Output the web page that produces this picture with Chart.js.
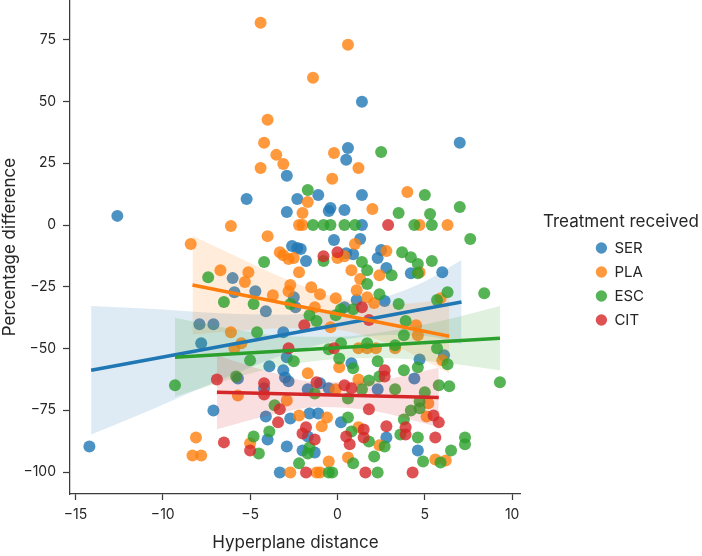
<!DOCTYPE html>
<html>
<head>
<meta charset="utf-8">
<script src="https://cdn.jsdelivr.net/npm/chart.js@4.4.0/dist/chart.umd.min.js"></script>
<style>
html, body { margin: 0; padding: 0; background: #fff; }
#wrap { width: 702px; height: 556px; }
</style>
</head>
<body>
<div id="wrap"><canvas id="grafico" width="702" height="556"></canvas></div>
<script>
// values: [hyperplane distance, percentage difference]
var serPoints = [[-14.2,-89.7],[-12.6,3.7],[-5.2,10.5],[-6.0,-21.5],[1.4,49.9],[0.6,31.2],[0.5,26.4],[7.0,33.3],[-2.9,19.9],[-1.1,12.2],[-2.3,10.5],[1.4,12.2],[-2.9,5.3],[-0.4,6.9],[-0.5,5.7],[0.4,6.1],[1.4,0],[-0.2,-6.1],[1.3,-5.7],[-2.6,-8.5],[-2.3,-9.3],[-2.1,-9.7],[-1.8,-14.6],[0.5,-11.4],[0.9,-11.8],[2.5,-10.1],[2.3,-13.4],[2.8,-17.4],[4.2,-19.5],[6.0,-19.1],[-5.9,-27.2],[-4.7,-26.8],[-4.1,-34.9],[-7.9,-40.2],[-7.1,-40.2],[-7.8,-47.9],[-5.7,-62.1],[-4.2,-66.1],[-7.1,-75.1],[-4.1,-77.5],[-4.0,-86.8],[-2.5,-29.2],[0.4,-33.3],[1.1,-30.4],[2.7,-30.8],[-3.1,-43.4],[-2.9,-53.5],[-3.9,-57.2],[-3.1,-58.8],[-3.0,-61.7],[-2.8,-63.3],[-1.0,-64.1],[-1.7,-66.5],[-0.5,-66.1],[2.3,-66.5],[0.8,-56.0],[-2.7,-78.3],[-1.6,-76.3],[-1.1,-76.3],[-1.7,-85.6],[0.2,-79.9],[2.8,-86.0],[-2.9,-89.7],[-2.0,-91.3],[-1.3,-92.1],[-3.3,-100.2],[6.1,-52.7],[4.7,-54.4],[4.4,-62.1],[4.6,-91.3],[-2.4,-33.3]];
var plaPoints = [[-4.4,81.9],[0.6,73.0],[-1.4,59.6],[-4.0,42.6],[-4.2,33.3],[-3.5,28.4],[-3.1,24.7],[-4.4,23.1],[-0.2,29.2],[1.2,23.1],[-0.3,18.7],[-1.7,9.3],[4.0,13.4],[-2.0,4.9],[2.0,6.5],[-6.1,-0.4],[-2.2,0],[-2.0,0],[4.7,0],[6.3,0],[-4.0,-4.5],[1.0,-7.7],[-8.4,-7.7],[-6.7,-18.3],[-5.1,-19.1],[-3.3,-11.0],[-3.1,-12.2],[-2.8,-13.8],[-2.5,-13.4],[0,-13.4],[0.4,-12.6],[-2.2,-19.1],[0.8,-18.3],[2.8,-10.5],[2.4,-20.3],[4.7,-19.1],[-5.3,-23.1],[1.3,-21.9],[1.1,-26.4],[-1.5,-25.2],[-1.0,-28.0],[-2.7,-24.3],[-2.8,-26.8],[-3.7,-28.4],[-0.1,-29.6],[1.7,-29.2],[2.1,-31.6],[-1.3,-33.3],[5.9,-29.6],[4.5,-40.6],[4.6,-44.6],[-6.1,-43.4],[-5.5,-47.9],[-5.9,-49.9],[-5.7,-69.0],[-8.1,-86.0],[-5.0,-88.4],[-8.3,-93.3],[-7.8,-93.3],[-1.7,-60.0],[-0.1,-66.5],[1.2,-62.5],[1.2,-49.9],[1.7,-49.9],[2.2,-49.9],[0.1,-57.6],[6.0,-54.8],[5.2,-72.2],[5.1,-77.5],[-2.9,-71.0],[-2.2,-77.1],[-0.6,-77.9],[-0.9,-81.5],[1.2,-81.9],[2.4,-89.2],[-0.5,-95.7],[0.6,-94.1],[-2.7,-100.2],[-1.2,-100.2],[-1.0,-100.2],[5.6,-94.9],[6.2,-95.3],[-0.4,-41.4],[3.3,-49.9]];
var escPoints = [[2.5,29.6],[-1.7,14.2],[5.0,12.2],[7.0,7.3],[3.5,4.9],[5.3,4.5],[-1.4,0],[-0.8,0],[-0.4,0],[0.4,0],[1.0,0],[4.4,0],[5.4,0],[7.6,-5.7],[-0.8,-14.6],[-4.2,-15.0],[1.4,-15.0],[1.7,-18.3],[3.7,-11.0],[4.2,-13.0],[4.6,-15.8],[5.4,-14.6],[3.1,-20.3],[4.6,-19.5],[-7.4,-21.1],[1.7,-23.9],[-2.7,-32.0],[2.4,-28.0],[0.2,-34.1],[0.9,-34.1],[-0.1,-36.5],[-1.6,-36.5],[-1.2,-38.9],[-6.5,-31.2],[-4.8,-32.0],[-4.6,-43.4],[-5.0,-54.8],[-9.3,-64.9],[-5.8,-61.3],[-3.9,-83.6],[-4.8,-85.6],[-4.5,-92.5],[8.4,-27.6],[6.3,-27.2],[5.7,-30.4],[3.5,-32.0],[3.9,-38.9],[3.8,-44.6],[3.3,-48.7],[5.7,-49.9],[6.3,-56.4],[4.6,-57.6],[3.8,-58.8],[9.3,-63.7],[5.8,-64.9],[6.4,-65.3],[3.3,-66.5],[5.0,-67.7],[4.7,-71.4],[4.7,-74.2],[4.2,-75.1],[3.8,-78.7],[3.6,-84.8],[4.6,-86.0],[7.3,-86.0],[7.3,-88.8],[6.5,-91.3],[4.9,-95.7],[5.9,-96.1],[-2.5,-55.2],[-1.3,-68.2],[1.4,-66.5],[0.6,-70.2],[1.8,-62.9],[2.4,-61.3],[0.9,-58.0],[2.3,-55.2],[0.2,-47.9],[0.1,-54.0],[1.7,-47.9],[-0.5,-50.3],[-3.6,-73.0],[0.6,-77.9],[0.8,-83.6],[1.8,-87.6],[2.7,-89.7],[-1.6,-90.1],[-1.7,-92.5],[-2.2,-96.5],[0.9,-96.5],[2.1,-93.7],[-0.5,-100.2],[-0.3,-100.2],[2.3,-100.2]];
var citPoints = [[2.9,0],[-0.8,-12.6],[0,-11.0],[1.4,-33.3],[-1.9,-40.6],[1.8,-38.5],[-6.9,-62.5],[-4.2,-64.1],[-4.2,-68.6],[-6.5,-88.0],[-5.0,-91.3],[-2.8,-49.9],[-1.2,-63.7],[0.4,-64.9],[0.8,-66.1],[2.7,-58.8],[2.7,-61.3],[-0.2,-49.9],[-3.3,-74.6],[-3.4,-79.9],[-1.8,-81.9],[-2.0,-84.4],[-1.3,-86.8],[0.5,-85.6],[0.7,-88.8],[1.5,-82.8],[1.5,-86.0],[2.8,-81.5],[-1.8,-100.2],[1.6,-100.2],[4.3,-100.2],[5.5,-77.1],[5.8,-79.9],[3.9,-81.9],[3.9,-84.8],[5.6,-86.0],[1.8,-74.6]];

// regression lines (end points) and confidence bands
var serLineX = [-14.1, 7.1], serLineY = [-58.8, -31.2];
var plaLineX = [-8.3, 6.4], plaLineY = [-24.3, -45.0];
var escLineX = [-9.3, 9.3], escLineY = [-53.5, -45.8];
var citLineX = [-6.9, 5.8], citLineY = [-67.7, -69.8];

var serBandX = [-14.1, -11, -7, -3, 0, 3, 5, 7.1];
var serBandLo = [-84.8, -75.8, -63.6, -52.3, -46.9, -44.5, -44.9, -48.2];
var serBandHi = [-32.8, -33.8, -35.6, -36.3, -33.9, -28.5, -22.9, -14.2];
var plaBandX = [-8.3, -6, -3, 0, 3, 6.4];
var plaBandLo = [-44.3, -43.0, -41.8, -42.5, -48.2, -60.0];
var plaBandHi = [-4.3, -12.0, -21.8, -29.5, -32.2, -30.0];
var escBandX = [-9.3, -6, -3, 0, 3, 6, 9.3];
var escBandLo = [-69.5, -62.1, -56.9, -54.2, -53.9, -55.7, -58.8];
var escBandHi = [-37.5, -42.1, -44.9, -45.2, -42.9, -38.7, -32.8];
var citBandX = [-6.9, -4, -1, 2, 5.8];
var citBandLo = [-82.7, -77.2, -73.7, -75.2, -81.8];
var citBandHi = [-52.7, -59.2, -63.7, -63.2, -57.8];

var xTicks = [-15, -10, -5, 0, 5, 10];
var yTicks = [-100, -75, -50, -25, 0, 25, 50, 75];

var FONT = 'Inter, "DejaVu Sans", sans-serif';
var INK = '#262626';
var AXIS = '#3c3c3c';

var series = [
	{ name: 'SER', color: [31, 119, 180], points: serPoints, lineX: serLineX, lineY: serLineY, bandX: serBandX, bandLo: serBandLo, bandHi: serBandHi },
	{ name: 'PLA', color: [255, 127, 14], points: plaPoints, lineX: plaLineX, lineY: plaLineY, bandX: plaBandX, bandLo: plaBandLo, bandHi: plaBandHi },
	{ name: 'ESC', color: [44, 160, 44], points: escPoints, lineX: escLineX, lineY: escLineY, bandX: escBandX, bandLo: escBandLo, bandHi: escBandHi },
	{ name: 'CIT', color: [214, 39, 40], points: citPoints, lineX: citLineX, lineY: citLineY, bandX: citBandX, bandLo: citBandLo, bandHi: citBandHi }
];

function rgba(c, a) {
	return 'rgba(' + c[0] + ',' + c[1] + ',' + c[2] + ',' + a + ')';
}

function toPoints(pairs) {
	return pairs.map(function(p) { return { x: p[0], y: p[1] }; });
}

function toLine(xs, ys) {
	return xs.map(function(x, i) { return { x: x, y: ys[i] }; });
}

function minus(v) {
	return v < 0 ? '\u2212' + Math.abs(v) : String(v);
}

// the legend box is only as wide as its items, so the heading is drawn here, centred over them
var legendHeading = {
	id: 'legendHeading',
	afterLayout: function(chart) {
		chart.legend.top += 12;
	},
	afterDraw: function(chart, args, opts) {
		var first = chart.legend.legendHitBoxes[0];
		var ctx = chart.ctx;
		ctx.save();
		ctx.font = '17px ' + FONT;
		ctx.fillStyle = INK;
		ctx.textAlign = 'center';
		ctx.textBaseline = 'middle';
		ctx.fillText(opts.text, first.left + 25, first.top + first.height / 2 - 26);
		ctx.restore();
	}
};

var datasets = [];
var order = 100;

series.forEach(function(s) {
	datasets.push({
		label: s.name,
		isPoints: true,
		data: toPoints(s.points),
		backgroundColor: rgba(s.color, 0.8),
		borderColor: rgba(s.color, 0),
		borderWidth: 0,
		pointRadius: 6,
		pointHoverRadius: 6,
		order: order--
	});
	datasets.push({
		label: s.name + ' low',
		data: toLine(s.bandX, s.bandLo),
		showLine: true,
		borderColor: 'rgba(0,0,0,0)',
		borderWidth: 0,
		pointRadius: 0,
		cubicInterpolationMode: 'monotone',
		fill: false,
		order: order
	});
	datasets.push({
		label: s.name + ' high',
		data: toLine(s.bandX, s.bandHi),
		showLine: true,
		borderColor: 'rgba(0,0,0,0)',
		borderWidth: 0,
		pointRadius: 0,
		cubicInterpolationMode: 'monotone',
		backgroundColor: rgba(s.color, 0.15),
		fill: '-1',
		order: order--
	});
});

var lineOrder = series.length;
series.forEach(function(s) {
	datasets.push({
		label: s.name + ' fit',
		data: toLine(s.lineX, s.lineY),
		showLine: true,
		borderColor: rgba(s.color, 1),
		borderWidth: 3.5,
		borderCapStyle: 'butt',
		pointRadius: 0,
		fill: false,
		order: lineOrder--
	});
});

var chart = new Chart(document.getElementById('grafico').getContext('2d'), {
	type: 'scatter',
	data: { datasets: datasets },
	plugins: [legendHeading],
	options: {
		responsive: false,
		animation: false,
		events: [],
		layout: { autoPadding: false, padding: { top: 0, left: 0, bottom: 0, right: 48 } },
		plugins: {
			tooltip: { enabled: false },
			legendHeading: { text: 'Treatment received' },
			legend: {
				position: 'right',
				labels: {
					usePointStyle: true,
					pointStyle: 'circle',
					boxWidth: 11,
					boxHeight: 8,
					padding: 9,
					color: INK,
					font: { family: FONT, size: 15 },
					filter: function(item, data) {
						return data.datasets[item.datasetIndex].isPoints === true;
					},
					sort: function(a, b) { return a.datasetIndex - b.datasetIndex; }
				}
			}
		},
		scales: {
			x: {
				type: 'linear',
				min: -15.31,
				max: 10.5,
				afterBuildTicks: function(s) { s.ticks = xTicks.map(function(v) { return { value: v }; }); },
				afterFit: function(s) { s.height = 62; s.paddingLeft = 0; s.paddingRight = 0; },
				ticks: { color: INK, font: { family: FONT, size: 14 }, padding: 6, maxRotation: 0, autoSkip: false, callback: minus },
				grid: { display: true, drawOnChartArea: false, drawTicks: true, tickLength: 6, tickColor: AXIS, tickWidth: 1.25 },
				border: { display: true, color: AXIS, width: 1.25 },
				title: { display: true, text: 'Hyperplane distance', color: INK, font: { family: FONT, size: 17 }, padding: { top: 0, bottom: 3 } }
			},
			y: {
				type: 'linear',
				min: -108.9,
				max: 91.1,
				afterBuildTicks: function(s) { s.ticks = yTicks.map(function(v) { return { value: v }; }); },
				afterFit: function(s) { s.width = 70; s.paddingTop = 0; s.paddingBottom = 0; },
				ticks: { color: INK, font: { family: FONT, size: 14 }, padding: 7, autoSkip: false, callback: minus },
				grid: { display: true, drawOnChartArea: false, drawTicks: true, tickLength: 7, tickColor: AXIS, tickWidth: 1.25 },
				border: { display: true, color: AXIS, width: 1.25 },
				title: { display: true, text: 'Percentage difference', color: INK, font: { family: FONT, size: 17 }, padding: { top: 0, bottom: 0 } }
			},
			gap: {
				type: 'linear',
				position: 'right',
				display: true,
				grid: { display: false },
				border: { display: false },
				ticks: { display: false },
				afterFit: function(s) { s.width = 66; s.paddingTop = 0; s.paddingBottom = 0; }
			}
		}
	}
});
</script>
</body>
</html>
